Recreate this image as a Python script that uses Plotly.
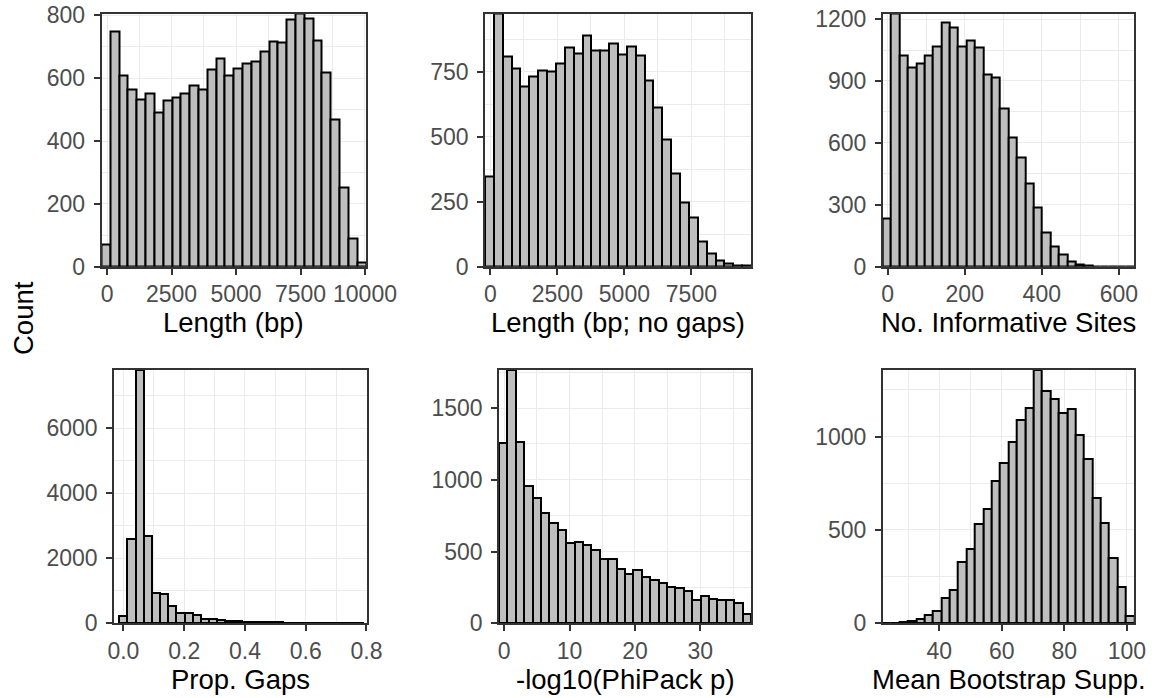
import plotly.graph_objects as go

# ---------------- data ----------------
length_counts = [71, 749, 608, 563, 531, 552, 492, 529, 540, 550, 578, 565, 629, 662, 608,
                 632, 648, 652, 685, 717, 715, 786, 806, 789, 720, 618, 468, 252, 91, 14]
length_bin_start = -215.0
length_bin_width = 341.8

nogap_counts = [348, 975, 808, 762, 693, 733, 756, 753, 782, 845, 822, 892, 834, 831, 858,
                817, 848, 813, 718, 612, 490, 357, 247, 189, 97, 49, 23, 14, 4, 6]
nogap_bin_start = -200.0
nogap_bin_width = 330.8

informative_counts = [235, 1227, 1025, 965, 986, 1022, 1065, 1184, 1159, 1069, 1095, 1062, 932,
                      919, 767, 628, 530, 405, 285, 167, 100, 57, 24, 11, 6, 3, 2, 1, 2, 3]
informative_bin_start = -13.0
informative_bin_width = 21.77

propgaps_counts = [236, 2585, 7790, 2687, 944, 892, 544, 328, 308, 256, 133, 123, 103, 75, 60,
                   50, 45, 35, 30, 25, 22, 18, 15, 14, 12, 10, 8, 6, 5, 3]
propgaps_bin_start = -0.0135
propgaps_bin_width = 0.02686
propgaps_x_limits = [-0.031, 0.8001]

phi_counts = [1257, 1765, 1262, 958, 876, 766, 696, 650, 563, 565, 549, 514, 451, 451, 378,
              346, 374, 322, 304, 283, 252, 245, 222, 159, 187, 168, 159, 159, 140, 63]
phi_bin_start = -0.8
phi_bin_width = 1.285

bootstrap_counts = [3, 3, 6, 14, 25, 43, 65, 133, 181, 330, 398, 532, 615, 762, 860, 973, 1090,
                    1151, 1357, 1242, 1201, 1125, 1147, 1007, 878, 672, 536, 349, 197, 41]
bootstrap_bin_start = 21.9
bootstrap_bin_width = 2.683

x_titles = ["Length (bp)", "Length (bp; no gaps)", "No. Informative Sites",
            "Prop. Gaps", "-log10(PhiPack p)", "Mean Bootstrap Supp."]
y_title = "Count"

# ---------------- layout geometry (pixels) ----------------
W, H = 1159, 698
FONT = "Liberation Sans, Arial, Helvetica, sans-serif"
TICK_COLOR = "#4D4D4D"
BORDER = "#333333"
GRID = "#EBEBEB"

panels = [
    dict(counts=length_counts, start=length_bin_start, width=length_bin_width, xlim=None,
         xd=2500, yd=200, xfmt="d", px=(101.5, 366.0), py=(13.5, 266.7)),
    dict(counts=nogap_counts, start=nogap_bin_start, width=nogap_bin_width, xlim=None,
         xd=2500, yd=250, xfmt="d", px=(485.0, 751.0), py=(13.5, 266.7)),
    dict(counts=informative_counts, start=informative_bin_start, width=informative_bin_width, xlim=None,
         xd=200, yd=300, xfmt="d", px=(882.7, 1134.3), py=(13.5, 266.7)),
    dict(counts=propgaps_counts, start=propgaps_bin_start, width=propgaps_bin_width, xlim=propgaps_x_limits,
         xd=0.2, yd=2000, xfmt=".1f", px=(114.0, 366.5), py=(370.0, 623.3)),
    dict(counts=phi_counts, start=phi_bin_start, width=phi_bin_width, xlim=None,
         xd=10, yd=500, xfmt="d", px=(499.0, 751.0), py=(370.0, 623.3)),
    dict(counts=bootstrap_counts, start=bootstrap_bin_start, width=bootstrap_bin_width, xlim=None,
         xd=20, yd=500, xfmt="d", px=(882.7, 1134.3), py=(370.0, 623.3)),
]

fig = go.Figure()
layout = dict(
    width=W, height=H,
    margin=dict(l=0, r=0, t=0, b=0, autoexpand=False),
    paper_bgcolor="white", plot_bgcolor="white",
    showlegend=False, bargap=0,
    font=dict(family=FONT, size=23, color=TICK_COLOR),
)
annotations = []

for i, p in enumerate(panels):
    k = i + 1
    xa = "x" if k == 1 else f"x{k}"
    ya = "y" if k == 1 else f"y{k}"
    n = len(p["counts"])
    centers = [p["start"] + p["width"] * (j + 0.5) for j in range(n)]
    fig.add_trace(go.Bar(
        x=centers, y=p["counts"], width=p["width"],
        marker=dict(color="#BEBEBE", line=dict(color="black", width=2)),
        xaxis=xa, yaxis=ya, hoverinfo="x+y",
    ))
    xr = p["xlim"] if p["xlim"] else [p["start"], p["start"] + n * p["width"]]
    yr = [0, max(p["counts"])]
    x0, x1 = p["px"]
    y0, y1 = p["py"]
    common = dict(
        automargin=False,
        showline=True, mirror=True, linecolor=BORDER, linewidth=1.6,
        ticks="outside", ticklen=6, tickwidth=1.5, tickcolor=BORDER,
        tickfont=dict(family=FONT, size=23, color=TICK_COLOR),
        showgrid=True, gridcolor=GRID, gridwidth=1.4, zeroline=False,
        layer="above traces",
    )
    layout["xaxis" if k == 1 else f"xaxis{k}"] = dict(
        common, domain=[x0 / W, x1 / W], range=xr, anchor=ya,
        tick0=0, dtick=p["xd"], tickformat=p["xfmt"], ticklabelstandoff=0,
        minor=dict(tick0=0, dtick=p["xd"] / 2, showgrid=True, gridcolor=GRID, gridwidth=0.8),
    )
    layout["yaxis" if k == 1 else f"yaxis{k}"] = dict(
        common, domain=[1 - y1 / H, 1 - y0 / H], range=yr, anchor=xa,
        tick0=0, dtick=p["yd"], tickformat="d", ticklabelstandoff=4,
        minor=dict(tick0=0, dtick=p["yd"] / 2, showgrid=True, gridcolor=GRID, gridwidth=0.8),
    )
    annotations.append(dict(
        text=x_titles[i], xref="paper", yref="paper",
        x=((x0 + x1) / 2) / W, y=1 - (y1 + 56) / H,
        xanchor="center", yanchor="middle", showarrow=False,
        font=dict(family=FONT, size=27.5, color="black"),
    ))

annotations.append(dict(
    text=y_title, xref="paper", yref="paper", x=23 / W, y=1 - 318 / H,
    xanchor="center", yanchor="middle", textangle=-90, showarrow=False,
    font=dict(family=FONT, size=27.5, color="black"),
))
layout["annotations"] = annotations
fig.update_layout(**layout)
fig.write_html("out.html")
